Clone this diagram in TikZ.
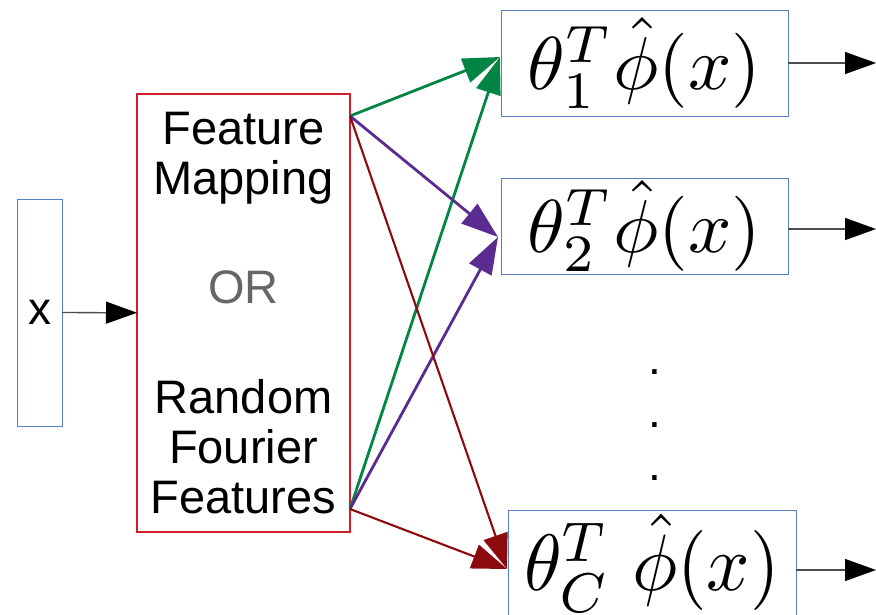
\documentclass[tikz,border=0pt]{standalone}
\usepackage{fontspec}
\setmainfont{Liberation Sans}
\usepackage{graphicx}
\usetikzlibrary{arrows.meta,calc}

\definecolor{boxblue}{RGB}{84,130,196}
\definecolor{mapred}{RGB}{210,30,40}
\definecolor{fgreen}{RGB}{0,133,68}
\definecolor{fpurple}{RGB}{90,44,145}
\definecolor{fdarkred}{RGB}{140,10,14}
\definecolor{orgray}{RGB}{102,102,102}

\newcommand\scoreeq[3]{\scalebox{#1}[#2]{$#3$}}

\begin{document}
\begin{tikzpicture}[x=1pt,y=-1pt,
  inbox/.style={draw=boxblue, line width=1pt, inner sep=0pt, outer sep=0pt,
    minimum width=45pt, minimum height=227pt, font=\fontsize{46}{50}\selectfont},
  mapbox/.style={draw=mapred, line width=2pt, inner sep=0pt, outer sep=0pt,
    minimum width=213pt, minimum height=438pt, align=center,
    font=\fontsize{47}{50}\selectfont},
  outbox/.style={draw=boxblue, line width=1pt, inner sep=0pt, outer sep=0pt,
    minimum width=287pt, minimum height=106pt},
  dotmark/.style={anchor=base, inner sep=0pt, font=\fontsize{46}{50}\selectfont},
  feed/.style={draw=black!70, line width=1.3pt,
    -{Triangle[length=31pt,width=22pt,color=black]}},
  greenlink/.style={draw=fgreen, line width=2.8pt, -{Triangle[length=37pt,width=25pt]}},
  purplelink/.style={draw=fpurple, line width=2.8pt, -{Triangle[length=37pt,width=25pt]}},
  redlink/.style={draw=fdarkred, line width=2.1pt, -{Triangle[length=35pt,width=25pt]}},
]
\useasboundingbox (0,0) rectangle (876,614);
\clip (0,0) rectangle (876,614);

% input and feature map
\node[inbox] (xin) at (39.5,312.5) {x};
\node[mapbox] (fm) at (243.5,313) {Feature\\Mapping\\[59pt]{\color{orgray}OR}\\[60pt]Random\\Fourier\\Features};

% per-class linear scores
\node[outbox] (o1) at (644.5,63) {\scoreeq{7.6}{7.5}{\theta_1^T\hat{\phi}(x)}};
\node[outbox, minimum height=96pt] (o2) at (644.5,226) {\scoreeq{7.6}{7.5}{\theta_2^T\hat{\phi}(x)}};
\node[outbox, minimum width=288pt] (oc) at (652,563) {\scoreeq{7.6}{8}{\theta_C^T\ \hat{\phi}(x)}};

% vertical ellipsis
\node[dotmark] (d1) at (655,374) {.};
\node[dotmark] (d2) at (655,427.5) {.};
\node[dotmark] (d3) at (655,480.5) {.};

% connection points
\coordinate (fmA) at ([yshift=-22pt]fm.north east);
\coordinate (fmB) at ([yshift=23pt]fm.south east);
\coordinate (t1) at ([xshift=-1pt,yshift=6pt]o1.west);
\coordinate (t2) at ([xshift=-3pt,yshift=-11pt]o2.west);
\coordinate (tc) at ([xshift=-1pt,yshift=-6pt]oc.west);
\coordinate (r1) at (876,63);
\coordinate (r2) at (876,229);
\coordinate (rc) at (876,570);

% connectors
\draw[feed] (xin) -- (fm);
\draw[greenlink] (fmA) -- (t1);
\draw[greenlink] (fmB) -- (t1);
\draw[purplelink] (fmA) -- (t2);
\draw[purplelink] (fmB) -- (t2);
\draw[redlink] (fmA) -- (tc);
\draw[redlink] (fmB) -- (tc);
\draw[feed] (o1.east) -- (r1);
\draw[feed] ([yshift=-3pt]o2.east) -- (r2);
\draw[feed] ([yshift=-7pt]oc.east) -- (rc);
\end{tikzpicture}
\end{document}
